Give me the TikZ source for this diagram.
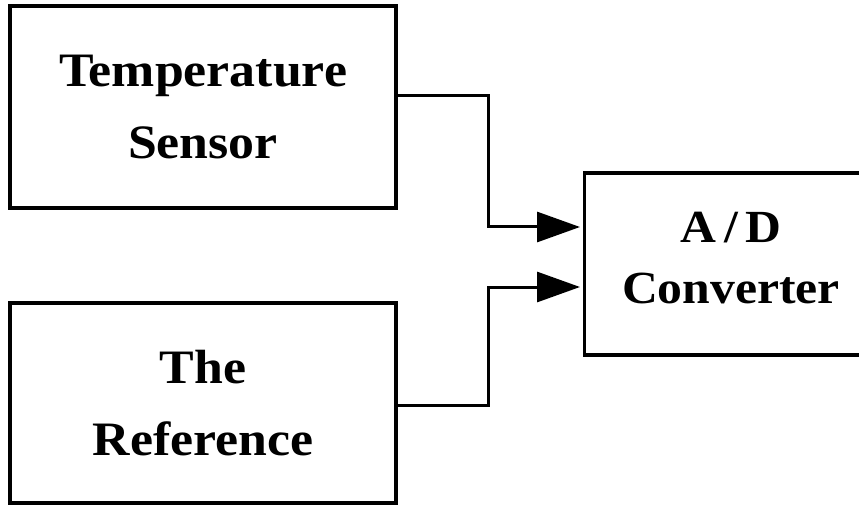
\documentclass[tikz,border=0pt]{standalone}
\usepackage{fontspec}
\setmainfont{Liberation Serif}[FakeStretch=1.08]
\usetikzlibrary{arrows.meta}
\begin{document}
\begin{tikzpicture}[x=1pt,y=1pt,
  block/.style={draw, line width=3.2pt, align=center, inner sep=0pt,
    font=\fontsize{48}{72}\selectfont\bfseries},
  wire/.style={line width=3pt},
  feed/.style={wire, -{Triangle[length=43pt,width=30pt]}}]
\useasboundingbox (0,0) rectangle (859,504);
\clip (0,0) rectangle (859,504);
% sensor and reference blocks on the left
\node[block, minimum width=386pt, minimum height=202pt] (sensor) at (203,397)
  {Temperature\\Sensor};
\node[block, minimum width=386pt, minimum height=200pt] (ref) at (203,101)
  {The\\Reference};
% converter block, running off the right edge
\node[block, minimum width=310pt, minimum height=182pt, anchor=west] (adc)
  at (583,240) {};
\node[font=\fontsize{46}{61}\selectfont\bfseries, align=center] (adclabel)
  at (731,246) {A\,/\,D\\Converter};
% routing points of the two signal lines
\coordinate (j1) at (488,408);
\coordinate (j2) at (488,217);
\coordinate (in1) at (580,277);
\coordinate (in2) at (580,217);
\draw[feed] (sensor.east |- j1) -- (j1) |- (in1);
\draw[feed] (ref.east |- 0,99) -| (j2) -- (in2);
\end{tikzpicture}
\end{document}
